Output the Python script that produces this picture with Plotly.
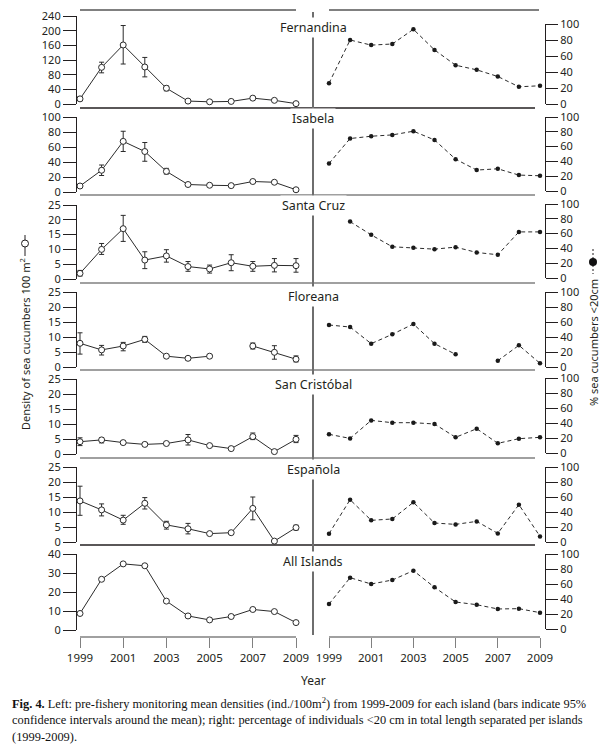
import plotly.graph_objects as go

W, H = 616, 751

years = list(range(1999, 2010))
year_ticks = [1999, 2001, 2003, 2005, 2007, 2009]
islands = ["Fernandina", "Isabela", "Santa Cruz", "Floreana",
           "San Cristóbal", "Española", "All Islands"]

# ---- left: mean densities (ind./100 m2) with 95% CI bounds ----
fern_mean = [14, 100, 161, 101, 43, 8, 6, 7, 16, 10, 1]
fern_hi = [20, 114, 214, 127, 49, None, None, None, 20, None, None]
fern_lo = [9, 85, 109, 74, 36, None, None, None, 12, None, None]

isab_mean = [8, 29, 67.5, 54, 27.5, 10, 9, 8.5, 14, 13, 3]
isab_hi = [None, 36, 81, 66, 31.5, 11.5, None, None, 15.5, None, None]
isab_lo = [None, 22, 54, 41, 24, 8.5, None, None, 12.5, None, None]

scruz_mean = [1.9, 10, 17, 6.4, 7.8, 4.2, 3.4, 5.5, 4.3, 4.6, 4.5]
scruz_hi = [2.9, 12, 21.5, 9.2, 9.9, 5.9, 4.7, 8.2, 5.9, 6.9, 6.9]
scruz_lo = [1.0, 8.3, 12.7, 3.5, 5.7, 2.6, 2.0, 2.8, 2.6, 2.4, 2.3]

flor_mean = [7.9, 5.7, 7.0, 9.2, 3.6, 2.9, 3.6, None, 7.0, 4.9, 2.6]
flor_hi = [11.4, 7.2, 8.2, 10.2, 4.1, 3.5, 4.1, None, 8.0, 7.1, 3.7]
flor_lo = [4.3, 4.0, 5.4, 8.2, 3.1, 2.3, 3.1, None, 6.0, 2.6, 1.7]

scris_mean = [4.1, 4.7, 3.8, 3.2, 3.5, 4.7, 2.8, 1.8, 5.8, 0.8, 4.9]
scris_hi = [5.4, 5.4, 4.3, 3.7, 4.0, 6.5, None, None, 7.0, None, 6.2]
scris_lo = [2.8, 3.7, 3.3, 2.7, 3.0, 3.0, None, None, 4.8, None, 3.8]

esp_mean = [13.7, 10.7, 7.3, 12.9, 5.7, 4.4, 2.8, 3.1, 11.2, 0.3, 4.8]
esp_hi = [18.6, 12.7, 8.9, 14.8, 6.9, 6.2, None, 3.6, 15.0, None, 5.6]
esp_lo = [8.9, 8.7, 5.9, 11.0, 4.3, 2.7, None, 2.6, 7.4, None, 4.0]

all_mean = [8.7, 26.7, 34.8, 33.8, 15.2, 7.4, 5.3, 7.1, 10.8, 9.7, 3.9]
all_hi = [None] * 11
all_lo = [None] * 11

# ---- right: % sea cucumbers < 20 cm ----
fern_pct = [26, 80, 73.6, 75, 93.4, 67.6, 48.5, 42.7, 34.4, 21.5, 22.8]
isab_pct = [37.2, 70.9, 74, 75.8, 80.8, 69, 43, 28.3, 30, 21.5, 20.6]
scruz_pct = [None, 76.2, 58.3, 42.2, 40.8, 39, 41.7, 34.5, 31.4, 62.3, 62.3]
flor_pct = [56, 53.3, 31.1, 43.6, 57.3, 31.1, 16.9, None, 8.4, 28.9, 4.9]
scris_pct = [24.9, 19.5, 43.5, 40.4, 40.4, 38.7, 20.9, 32.4, 12.9, 19.1, 20.9]
esp_pct = [11.1, 56.4, 28.9, 30.7, 52.9, 25.3, 23.5, 27.5, 11.5, 49.8, 7.5]
all_pct = [33.3, 68.4, 60, 65.3, 77.8, 55.6, 36, 32.4, 26.7, 27.1, 21.8]

left_top = [240, 100, 25, 25, 25, 25, 40]
left_step = [40, 20, 5, 5, 5, 5, 10]
pct_ticks = [0, 20, 40, 60, 80, 100]

means = [fern_mean, isab_mean, scruz_mean, flor_mean, scris_mean, esp_mean, all_mean]
his = [fern_hi, isab_hi, scruz_hi, flor_hi, scris_hi, esp_hi, all_hi]
los = [fern_lo, isab_lo, scruz_lo, flor_lo, scris_lo, esp_lo, all_lo]
pcts = [fern_pct, isab_pct, scruz_pct, flor_pct, scris_pct, esp_pct, all_pct]

# ---- layout geometry (pixels) ----
left_dom_px = [(16, 104), (117, 192), (205, 279), (292, 367), (379, 454), (467, 542), (554, 630)]
right_dom_px = [(24, 104), (117, 191), (204, 278), (292, 367), (378, 453), (467, 542), (554, 629)]
label_y_px = [27, 119, 205, 296, 384, 469, 561]
sep_y_px = [108, 195, 283, 370, 458, 545]
LX0, LX1 = 80, 296      # pixel of 1999 / 2009, left column
RX0, RX1 = 329, 540     # pixel of 1999 / 2009, right column
XPAD = 0.2              # years of padding each side (so edge error caps are not clipped)
AXIS_Y = 637

INK = "#231f20"
GRAY = "#808080"
FONT = "Noto Sans"


def fx(x):
    return x / W


def fy(y):
    return 1 - y / H


def ydom(p):
    return [fy(p[1]), fy(p[0])]


def xdom(p0, p1):
    per = (p1 - p0) / (years[-1] - years[0])
    return [fx(p0 - XPAD * per), fx(p1 + XPAD * per)]


fig = go.Figure()
layout = dict(
    width=W, height=H, margin=dict(l=0, r=0, t=0, b=0, autoexpand=False),
    paper_bgcolor="white", plot_bgcolor="white", showlegend=False,
    font=dict(family=FONT, color=INK, size=11),
)

xcommon = dict(range=[years[0] - XPAD, years[-1] + XPAD], anchor="free", position=fy(AXIS_Y),
               tickmode="array", tickvals=year_ticks, ticktext=[str(t) for t in year_ticks],
               ticks="outside", ticklen=10, tickwidth=1.3, tickcolor=GRAY,
               showline=False, showgrid=False, zeroline=False, automargin=False,
               tickfont=dict(size=11.5, color=INK, family=FONT))
layout["xaxis"] = dict(domain=xdom(LX0, LX1), **xcommon)
layout["xaxis2"] = dict(domain=xdom(RX0, RX1), **xcommon)

for i in range(7):
    nl = i + 1
    nr = i + 8
    top = left_top[i]
    lt = list(range(0, top + 1, left_step[i]))
    layout["yaxis" if nl == 1 else f"yaxis{nl}"] = dict(
        domain=ydom(left_dom_px[i]), range=[0, top], anchor="free", position=fx(76),
        side="left", tickmode="array", tickvals=lt, ticks="outside", ticklen=13,
        tickwidth=1, tickcolor=INK, showline=True, linecolor=INK, linewidth=1.2,
        showgrid=False, zeroline=False, automargin=False,
        tickfont=dict(size=11, color=INK, family=FONT))
    layout[f"yaxis{nr}"] = dict(
        domain=ydom(right_dom_px[i]), range=[0, 100], anchor="free", position=fx(545),
        side="right", tickmode="array", tickvals=pct_ticks, ticks="outside", ticklen=12,
        tickwidth=1, tickcolor=INK, showline=True, linecolor=INK, linewidth=1.2,
        showgrid=False, zeroline=False, automargin=False,
        tickfont=dict(size=11, color=INK, family=FONT))

    m = means[i]
    plus = [(h - v) if (h is not None and v is not None) else None for h, v in zip(his[i], m)]
    minus = [(v - l) if (l is not None and v is not None) else None for l, v in zip(los[i], m)]
    fig.add_trace(go.Scatter(
        x=years, y=m, xaxis="x", yaxis="y" if nl == 1 else f"y{nl}",
        mode="lines+markers", cliponaxis=False,
        line=dict(color="#2b2b2b", width=1),
        marker=dict(symbol="circle", size=6, color="white", line=dict(color="#2b2b2b", width=1)),
        error_y=dict(type="data", symmetric=False, array=plus, arrayminus=minus,
                     color="#2b2b2b", thickness=1, width=2.5),
    ))
    fig.add_trace(go.Scatter(
        x=years, y=pcts[i], xaxis="x2", yaxis=f"y{nr}",
        mode="lines+markers", cliponaxis=False,
        line=dict(color="#2b2b2b", width=1, dash="4px,3px"),
        marker=dict(symbol="circle", size=4.5, color="#1a1a1a"),
    ))

shapes = []


def hline(x0, x1, y, color, width):
    shapes.append(dict(type="line", xref="paper", yref="paper",
                       x0=fx(x0), x1=fx(x1), y0=fy(y), y1=fy(y),
                       line=dict(color=color, width=width)))


def vline(x, y0, y1, color, width, dash="solid"):
    shapes.append(dict(type="line", xref="paper", yref="paper",
                       x0=fx(x), x1=fx(x), y0=fy(y0), y1=fy(y1),
                       line=dict(color=color, width=width, dash=dash)))


hline(80, 296, 10, GRAY, 2)
hline(329, 539, 10, GRAY, 2)
for k, yy in enumerate(sep_y_px):
    hline(80, 535, yy, INK if k in (0, 5) else GRAY, 1.6)
vline(313, 12, 635, "#6e6e6e", 2)
# bottom axis lines (exactly 1999..2009)
hline(LX0, LX1, AXIS_Y, GRAY, 1.5)
hline(RX0, RX1, AXIS_Y, GRAY, 1.5)

# legend-like symbols beside axis titles
vline(25, 235, 256, INK, 1)
shapes.append(dict(type="circle", xref="paper", yref="paper",
                   x0=fx(21.5), x1=fx(28.5), y0=fy(247), y1=fy(240),
                   fillcolor="white", line=dict(color=INK, width=1)))
vline(593, 249, 274, INK, 1, dash="2px,2px")
shapes.append(dict(type="circle", xref="paper", yref="paper",
                   x0=fx(589), x1=fx(597), y0=fy(266), y1=fy(258),
                   fillcolor="#111", line=dict(color="#111", width=0)))
layout["shapes"] = shapes

ann = []
for name, yy in zip(islands, label_y_px):
    ann.append(dict(text=name, x=fx(313), y=fy(yy), xref="paper", yref="paper",
                    xanchor="center", yanchor="middle", showarrow=False,
                    bgcolor="white", borderpad=1, font=dict(size=12.5, color=INK, family=FONT)))

ann.append(dict(text="Density of sea cucumbers 100 m<sup>2</sup>", textangle=-90,
                x=fx(25), y=fy(344), xref="paper", yref="paper", showarrow=False,
                xanchor="center", yanchor="middle", font=dict(size=11, color=INK, family=FONT)))
ann.append(dict(text="% sea cucumbers <20cm", textangle=-90,
                x=fx(593), y=fy(343), xref="paper", yref="paper", showarrow=False,
                xanchor="center", yanchor="middle", font=dict(size=11, color=INK, family=FONT)))
ann.append(dict(text="Year", x=fx(313), y=fy(680), xref="paper", yref="paper",
                showarrow=False, xanchor="center", yanchor="middle",
                font=dict(size=12, color=INK, family=FONT)))

caption = [
    "<b>Fig. 4.</b> Left: pre-fishery monitoring mean densities (ind./100m<sup>2</sup>) from 1999-2009 for each island (bars indicate 95%",
    "confidence intervals around the mean); right: percentage of individuals <20 cm in total length separated per islands",
    "(1999-2009).",
]
for line, yy in zip(caption, [703, 720, 737]):
    ann.append(dict(text=line, x=fx(10), y=fy(yy), xref="paper", yref="paper",
                    showarrow=False, xanchor="left", yanchor="middle",
                    font=dict(size=12.4, color="#111", family="Liberation Serif")))
layout["annotations"] = ann

fig.update_layout(**layout)
fig.write_html("out.html",
               config={"displayModeBar": False},
               post_script="document.body.style.margin='0';document.body.style.overflow='hidden';")
